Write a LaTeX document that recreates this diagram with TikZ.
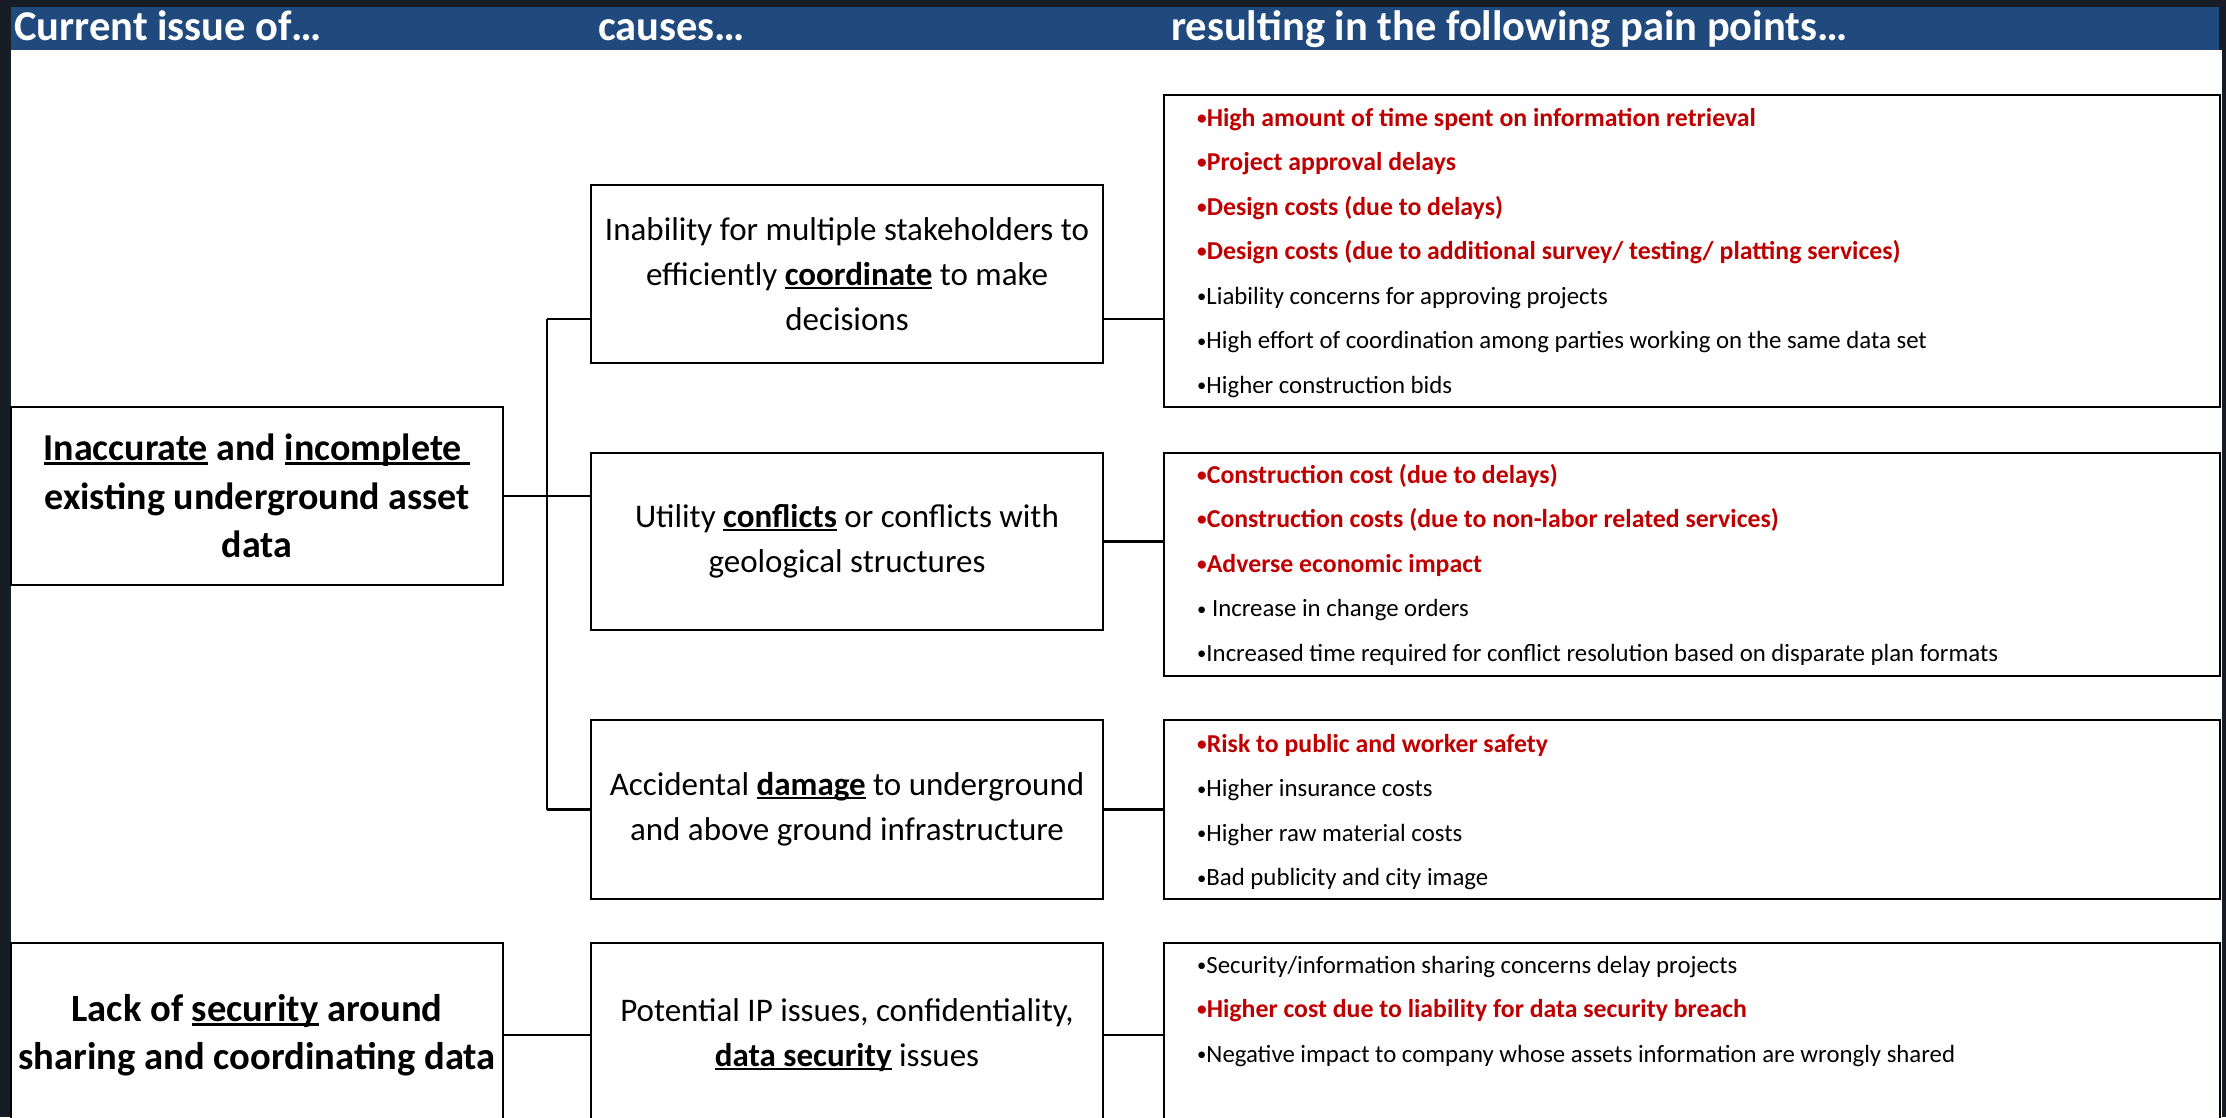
\documentclass[tikz,border=0pt]{standalone}
\usepackage{fontspec}
\setmainfont{Carlito}
\definecolor{hdrblue}{RGB}{32,74,126}
\definecolor{painred}{RGB}{192,0,0}
\definecolor{bgdark}{RGB}{22,29,36}
\newsavebox\myulbox
\newcommand\myul[1]{\sbox\myulbox{#1}\rlap{\rule[-0.11em]{\wd\myulbox}{0.07em}}\usebox\myulbox}
\newcommand\bul{\raisebox{0.06em}{\scalebox{0.75}{•}}}
\newcommand\redline[1]{\textcolor{painred}{\fontsize{25.8}{44.5}\selectfont\bfseries\bul #1}}
\begin{document}
\begin{tikzpicture}[x=1pt,y=-1pt,
  box/.style={draw=black,line width=2.4pt,fill=white,inner sep=0pt},
  conn/.style={draw=black,line width=2.2pt},
  hdr/.style={anchor=base west,text=white,font=\fontsize{42.5}{42.5}\selectfont\bfseries,inner sep=0pt},
  lefttext/.style={align=center,font=\fontsize{38}{48.5}\selectfont\bfseries},
  midtext/.style={align=center,font=\fontsize{33}{45}\selectfont},
  pain/.style={anchor=base west,align=left,inner sep=0pt,font=\fontsize{24.8}{44.5}\selectfont},
]
\useasboundingbox (0,0) rectangle (2226,1117);
\clip (0,0) rectangle (2226,1117);
\fill[bgdark] (0,0) rectangle (2226,1117);
\fill[white] (11,50) rectangle (2222,1117);
\fill[hdrblue] (11,7) rectangle (2219,50);

% header
\node[hdr] (H1) at (14,40) {Current issue of…};
\node[hdr] (H2) at (598,40) {causes…};
\node[hdr] (H3) at (1171,40) {resulting in the following pain points…};

% left column
\node[box,minimum width=492pt,minimum height=178pt,lefttext] (L1) at (257,496)
  {\myul{Inaccurate} and \myul{incomplete\ }\\existing underground asset\\data};
\node[box,minimum width=492pt,minimum height=184pt,lefttext,font=\fontsize{38.6}{47.5}\selectfont\bfseries] (L2) at (257,1035)
  {Lack of \myul{security} around\\sharing and coordinating data};

% middle column
\node[box,minimum width=512pt,minimum height=178pt,midtext] (M1) at (847,274)
  {Inability for multiple stakeholders to\\efficiently \myul{\textbf{coordinate}} to make\\decisions};
\node[box,minimum width=512pt,minimum height=177pt,midtext] (M2) at (847,541.5)
  {Utility \myul{\textbf{conflicts}} or conflicts with\\geological structures};
\node[box,minimum width=512pt,minimum height=179pt,midtext] (M3) at (847,809.5)
  {Accidental \myul{\textbf{damage}} to underground\\and above ground infrastructure};
\node[box,minimum width=512pt,minimum height=184pt,midtext] (M4) at (847,1035)
  {Potential IP issues, confidentiality,\\\myul{\textbf{data security}} issues};

% right column boxes
\node[box,minimum width=1056pt,minimum height=312pt] (R1) at (1692,251) {};
\node[box,minimum width=1056pt,minimum height=223pt] (R2) at (1692,564.5) {};
\node[box,minimum width=1056pt,minimum height=179pt] (R3) at (1692,809.5) {};
\node[box,minimum width=1056pt,minimum height=184pt] (R4) at (1692,1035) {};

% pain point texts (anchor = baseline of last line)
\node[pain] (P1) at (1197,393) {%
\redline{High amount of time spent on information retrieval}\\
\redline{Project approval delays}\\
\redline{Design costs (due to delays)}\\
\redline{Design costs (due to additional survey/ testing/ platting services)}\\
\bul Liability concerns for approving projects\\
\bul High effort of coordination among parties working on the same data set\\
\bul Higher construction bids};
\node[pain] (P2) at (1197,661) {%
\redline{Construction cost (due to delays)}\\
\redline{Construction costs (due to non-labor related services)}\\
\redline{Adverse economic impact}\\
\bul\ Increase in change orders\\
\bul Increased time required for conflict resolution based on disparate plan formats};
\node[pain] (P3) at (1197,885.5) {%
\redline{Risk to public and worker safety}\\
\bul Higher insurance costs\\
\bul Higher raw material costs\\
\bul Bad publicity and city image};
\node[pain] (P4) at (1197,1062) {%
\bul Security/information sharing concerns delay projects\\
\redline{Higher cost due to liability for data security breach}\\
\bul Negative impact to company whose assets information are wrongly shared};

% connectors
\coordinate (bt) at (547,319);
\coordinate (bb) at (547,809.5);
\draw[conn] (L1.east) -- (L1.east -| M2.west);
\draw[conn] (bt) -- (bb);
\draw[conn] (bt) -- (bt -| M1.west);
\draw[conn] (bb) -- (bb -| M3.west);
\draw[conn] (M1.east |- bt) -- (R1.west |- bt);
\draw[conn] (M2.east) -- (M2.east -| R2.west);
\draw[conn] (M3.east) -- (R3.west);
\draw[conn] (L2.east) -- (M4.west);
\draw[conn] (M4.east) -- (R4.west);
\end{tikzpicture}
\end{document}
